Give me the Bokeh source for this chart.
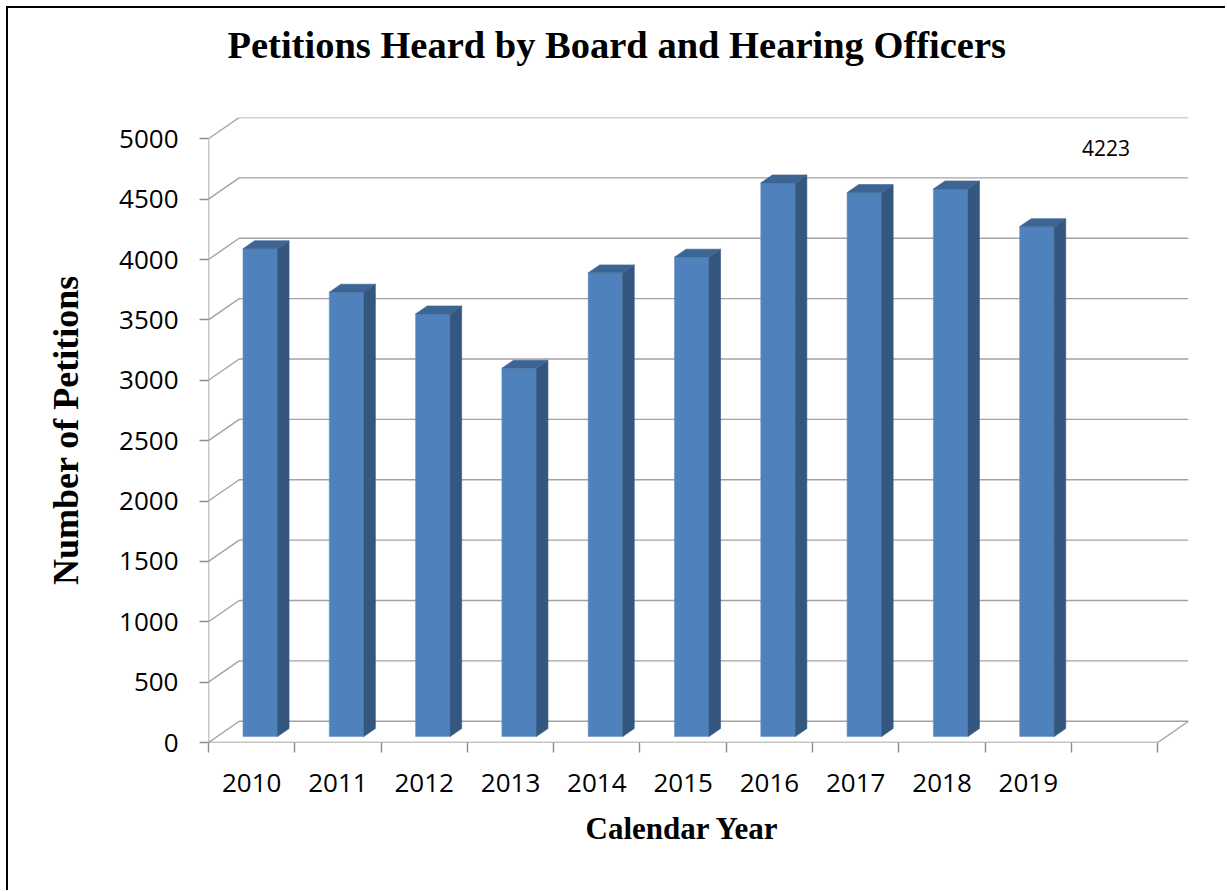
import numpy as np
from bokeh.plotting import figure
from bokeh.models import Range1d, FixedTicker, Label, Title
from bokeh.embed import file_html
from bokeh.resources import INLINE

# ---------------- data ----------------
years = ["2010", "2011", "2012", "2013", "2014", "2015", "2016", "2017", "2018", "2019"]
petitions = [4040, 3680, 3500, 3050, 3840, 3970, 4585, 4505, 4535, 4223]
n_slots = 11                      # category axis has one empty slot after 2019
y_ticks = list(range(0, 5001, 500))
y_max = 5000
data_label = str(petitions[-1])   # stray data label shown at top right

title_text = "Petitions Heard by Board and Hearing Officers"
x_title = "Calendar Year"
y_title = "Number of Petitions"

# ---------------- style / layout ----------------
FRONT = "#4F81BD"
SIDE = "#34577F"
TOP = "#3D6594"
GRID = "#a3a3a3"
AXIS = "#8c8c8c"

DX = 0.356        # depth offset of the back wall in x units
DY = 176.0        # depth offset of the back wall in y units
FRONT_FRAC = 0.28 # bar front face position in depth
DEPTH_FRAC = 0.376
HW = 0.2          # bar half width

FW, FH = 980, 625
BL, BR, BT, BB = 200, 37, 109, 148

x0r, x1r = -0.5, n_slots - 0.5 + DX
y0r, y1r = 0.0, y_max + DY

def px2x(px):
    return x0r + (px - 208) * (x1r - x0r) / FW

def px2y(py):
    return y0r + (742 - py) * (y1r - y0r) / FH

p = figure(frame_width=FW, frame_height=FH,
           min_border_left=BL, min_border_right=BR,
           min_border_top=BT, min_border_bottom=BB,
           x_range=Range1d(x0r, x1r), y_range=Range1d(y0r, y1r),
           output_backend="svg", toolbar_location=None)
p.styles = {"margin-left": "6px", "margin-top": "6px",
            "border-left": "2px solid black", "border-top": "2px solid black"}
p.xgrid.visible = False
p.ygrid.visible = False
p.outline_line_color = None
p.background_fill_color = "white"
p.border_fill_color = "white"

# ---------------- walls / gridlines ----------------
gxs, gys = [], []
for v in y_ticks:
    gxs.append([x0r, x0r + DX, n_slots - 0.5 + DX])
    gys.append([v, v + DY, v + DY])
# floor right edge
gxs.append([n_slots - 0.5, n_slots - 0.5 + DX])
gys.append([0, DY])
p.multi_line(gxs, gys, line_color=GRID, line_width=1.4)

# front axis lines
p.multi_line([[x0r, x0r], [x0r, n_slots - 0.5]], [[0, y_max], [0, 0]],
             line_color=AXIS, line_width=1.4)

# ---------------- bars ----------------
idx = np.arange(len(petitions))
vals = np.array(petitions, dtype=float)
cx = idx + FRONT_FRAC * DX
left = cx - HW
right = cx + HW
bottom = np.full(len(vals), FRONT_FRAC * DY)
top = bottom + vals
bdx = DEPTH_FRAC * DX
bdy = DEPTH_FRAC * DY

side_xs = [[r, r + bdx, r + bdx, r] for r in right]
side_ys = [[b, b + bdy, t + bdy, t] for b, t in zip(bottom, top)]
top_xs = [[l, r, r + bdx, l + bdx] for l, r in zip(left, right)]
top_ys = [[t, t, t + bdy, t + bdy] for t in top]

p.quad(left=left, right=right, bottom=bottom, top=top,
       fill_color=FRONT, line_color="#6a94c8", line_width=0.6)
p.patches(side_xs, side_ys, fill_color=SIDE, line_color=SIDE, line_width=0.6)
p.patches(top_xs, top_ys, fill_color=TOP, line_color=TOP, line_width=0.6)

# ---------------- axes ----------------
ya = p.yaxis[0]
ya.ticker = FixedTicker(ticks=y_ticks)
ya.axis_line_color = None
ya.major_tick_out = 9
ya.major_tick_in = 0
ya.major_tick_line_color = AXIS
ya.major_tick_line_width = 1.4
ya.minor_tick_line_color = None
ya.major_label_text_font = "Open Sans"
ya.major_label_text_font_size = "26px"
ya.major_label_text_color = "black"
ya.major_label_standoff = 21
ya.axis_label = y_title
ya.axis_label_text_font = "Liberation Serif"
ya.axis_label_text_font_style = "bold"
ya.axis_label_text_font_size = "36px"
ya.axis_label_text_color = "black"
ya.axis_label_standoff = 30

xa = p.xaxis[0]
xa.ticker = FixedTicker(ticks=list(range(len(years))),
                        minor_ticks=[i - 0.5 for i in range(n_slots + 1)])
xa.major_label_overrides = {i: y for i, y in enumerate(years)}
xa.axis_line_color = None
xa.major_tick_out = 10
xa.major_tick_in = 0
xa.major_tick_line_color = None
xa.minor_tick_out = 10
xa.minor_tick_in = 0
xa.minor_tick_line_color = AXIS
xa.minor_tick_line_width = 1.4
xa.major_label_text_font = "Open Sans"
xa.major_label_text_font_size = "26px"
xa.major_label_text_color = "black"
xa.major_label_standoff = 21

# ---------------- titles ----------------
# spacer between frame and main title (closest to the frame)
p.add_layout(Title(text=" ", text_font_size="20px", standoff=28), "above")
p.title.text = title_text
p.title.align = "left"
p.title.offset = 19
p.title.standoff = 0
p.title.text_font = "Liberation Serif"
p.title.text_font_style = "bold"
p.title.text_font_size = "38.5px"
p.title.text_color = "black"

p.add_layout(Title(text=x_title, align="left", offset=377,
                   vertical_align="top", standoff=32,
                   text_font="Liberation Serif", text_font_style="bold",
                   text_font_size="31px", text_color="black"), "below")

p.add_layout(Label(x=px2x(1105.5), y=px2y(147), text=data_label,
                   text_font="Open Sans", text_font_size="21px",
                   text_color="black", text_align="center",
                   text_baseline="middle"))

open("out.html", "w").write(file_html(p, INLINE))
